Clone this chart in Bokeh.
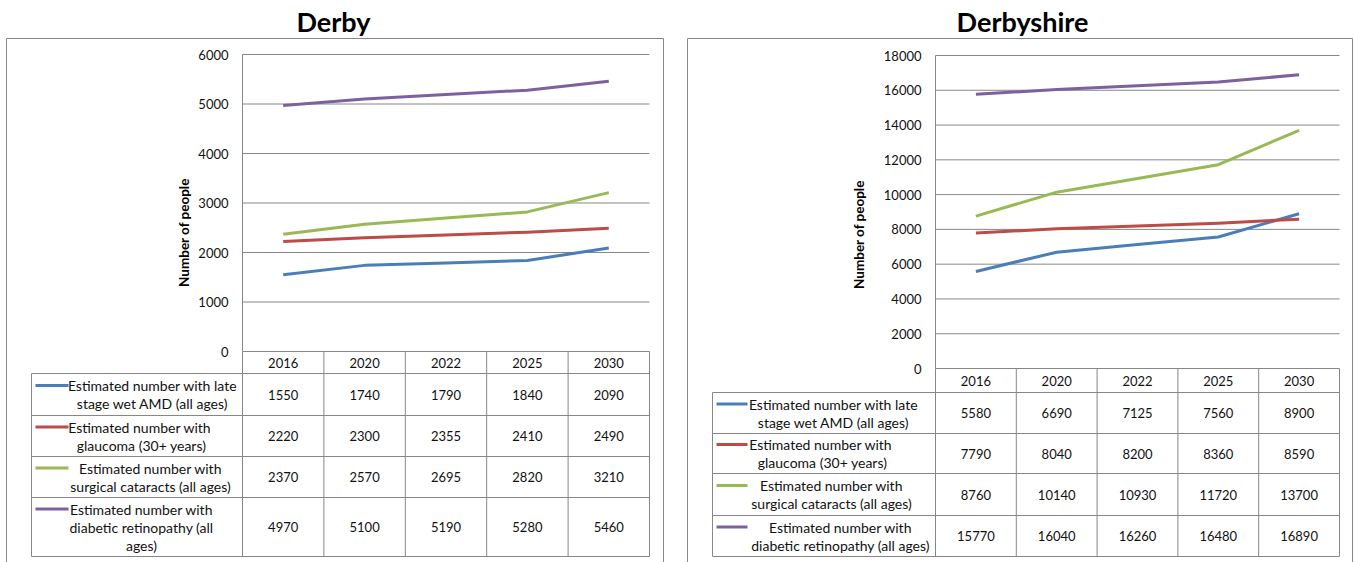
from math import pi

from bokeh.plotting import figure
from bokeh.models import Range1d
from bokeh.core.properties import value
from bokeh.embed import file_html
from bokeh.resources import INLINE

# ---------------------------------------------------------------- data
years = ["2016", "2020", "2022", "2025", "2030"]

series_colors = ["#4A7EBB", "#BE4B48", "#98B954", "#7D60A0"]

derby_amd = [1550, 1740, 1790, 1840, 2090]
derby_glaucoma = [2220, 2300, 2355, 2410, 2490]
derby_cataracts = [2370, 2570, 2695, 2820, 3210]
derby_retinopathy = [4970, 5100, 5190, 5280, 5460]

derbyshire_amd = [5580, 6690, 7125, 7560, 8900]
derbyshire_glaucoma = [7790, 8040, 8200, 8360, 8590]
derbyshire_cataracts = [8760, 10140, 10930, 11720, 13700]
derbyshire_retinopathy = [15770, 16040, 16260, 16480, 16890]

derby_ticks = [0, 1000, 2000, 3000, 4000, 5000, 6000]
derbyshire_ticks = [0, 2000, 4000, 6000, 8000, 10000, 12000, 14000, 16000, 18000]

# series names as wrapped inside the data-table legend cells
derby_labels = [
    ["Estimated number with late", "stage wet AMD (all ages)"],
    ["Estimated number  with", "glaucoma (30+ years)"],
    ["Estimated number with", "surgical cataracts (all ages)"],
    ["Estimated number with", "diabetic retinopathy (all", "ages)"],
]
derbyshire_labels = [
    ["Estimated number with late", "stage wet AMD (all ages)"],
    ["Estimated number  with", "glaucoma (30+ years)"],
    ["Estimated number with", "surgical cataracts (all ages)"],
    ["Estimated number with", "diabetic retinopathy (all ages)"],
]

y_title = "Number of people"

# ---------------------------------------------------------------- styling
W, H = 1354, 562
FONT = value("Lato")
GRID = "#878787"
TEXT = "#111111"
SERIES_WIDTH = 3

# panel geometry (canvas pixels)
derby_layout = dict(
    name="derby", title="Derby", title_x=333, title_y=21,
    box=(6, 38, 663, 575),
    axis_x=242, plot_right=649, top_y=54, zero_y=351,
    table_left=31, header_bottom=373, row_bottoms=[415, 456, 497, 556],
    tick_label_x=228, ytitle_x=183, ytitle_y=232,
    key=(35, 68), text_centers=[152, 141, 150, 141],
)
derbyshire_layout = dict(
    name="derbyshire", title="Derbyshire", title_x=1022, title_y=21,
    box=(687, 38, 1352, 575),
    axis_x=935, plot_right=1339, top_y=55, zero_y=368,
    table_left=712, header_bottom=392, row_bottoms=[433, 473, 515, 556],
    tick_label_x=921, ytitle_x=858, ytitle_y=234,
    key=(716, 747), text_centers=[833, 822, 831, 840],
)

p = figure(
    width=W, height=H,
    x_range=Range1d(0, W), y_range=Range1d(H, 0),
    min_border=0, toolbar_location=None, output_backend="svg",
)
p.axis.visible = False
p.grid.visible = False
p.outline_line_color = None
p.background_fill_color = "white"
p.border_fill_color = "white"


def draw_panel(lay, ticks, series, labels):
    n = len(years)
    name = lay["name"]
    ax, right = lay["axis_x"], lay["plot_right"]
    top, zero = lay["top_y"], lay["zero_y"]
    col_w = (right - ax) / n

    # category scale: index i sits in the middle of table column i
    xs0 = -0.5 - ax / col_w
    p.extra_x_ranges[name + "_x"] = Range1d(xs0, xs0 + W / col_w)
    # value scale: 0 on the table's top edge, top tick on the top gridline
    k = (ticks[-1] - ticks[0]) / (zero - top)
    p.extra_y_ranges[name + "_y"] = Range1d(-(H - zero) * k, ticks[-1] + top * k)
    xr, yr = name + "_x", name + "_y"

    # title and frame
    p.text(x=[lay["title_x"]], y=[lay["title_y"]], text=[lay["title"]],
           text_font=FONT, text_font_style="bold", text_font_size="27px",
           text_align="center", text_baseline="middle", text_color="black")
    x0, y0, x1, y1 = lay["box"]
    p.quad(left=[x0], right=[x1], top=[y0], bottom=[y1],
           fill_color=None, line_color=GRID, line_width=1)

    # horizontal gridlines and tick labels
    p.segment(x0=[ax] * len(ticks), x1=[right] * len(ticks), y0=ticks, y1=ticks,
              y_range_name=yr, line_color=GRID, line_width=1)
    p.text(x=[lay["tick_label_x"]] * len(ticks), y=ticks,
           text=[str(t) for t in ticks], y_range_name=yr,
           text_font=FONT, text_font_size="13px", text_color=TEXT,
           text_align="right", text_baseline="middle")
    p.text(x=[lay["ytitle_x"]], y=[lay["ytitle_y"]], text=[y_title],
           angle=pi / 2, text_font=FONT, text_font_style="bold",
           text_font_size="13.5px", text_color="black",
           text_align="center", text_baseline="middle")

    # data table grid
    rows = lay["row_bottoms"]
    bottom = rows[-1]
    tl = lay["table_left"]
    hb = lay["header_bottom"]
    hx0 = [tl] + [tl] * len(rows)
    hx1 = [right] * (len(rows) + 1)
    hy = [hb] + rows
    p.segment(x0=hx0, x1=hx1, y0=hy, y1=hy, line_color=GRID, line_width=1)
    edges = [ax + i * col_w for i in range(n + 1)]
    p.segment(x0=edges, x1=edges, y0=[zero] * len(edges), y1=[bottom] * len(edges),
              line_color=GRID, line_width=1)
    p.segment(x0=[ax], x1=[ax], y0=[top], y1=[zero], line_color=GRID, line_width=1)
    p.segment(x0=[tl], x1=[tl], y0=[hb], y1=[bottom], line_color=GRID, line_width=1)

    # year headers
    idx = list(range(n))
    p.text(x=idx, y=[(zero + hb) / 2] * n, text=years, x_range_name=xr,
           text_font=FONT, text_font_size="13px", text_color=TEXT,
           text_align="center", text_baseline="middle")

    row_tops = [hb] + rows[:-1]
    k0, k1 = lay["key"]
    for r, (vals, color, lab) in enumerate(zip(series, series_colors, labels)):
        # series line
        p.line(x=idx, y=vals, x_range_name=xr, y_range_name=yr,
               line_color=color, line_width=SERIES_WIDTH, line_join="round")
        mid = (row_tops[r] + rows[r]) / 2
        # values in the row
        p.text(x=idx, y=[mid] * n, text=[str(v) for v in vals], x_range_name=xr,
               text_font=FONT, text_font_size="13px", text_color=TEXT,
               text_align="center", text_baseline="middle")
        # legend key and wrapped series name
        gap = 18
        first = mid - gap * (len(lab) - 1) / 2
        ly = [first + gap * j for j in range(len(lab))]
        p.segment(x0=[k0], x1=[k1], y0=[ly[0]], y1=[ly[0]],
                  line_color=color, line_width=3)
        p.text(x=[lay["text_centers"][r]] * len(lab), y=ly, text=lab,
               text_font=FONT, text_font_size="14px", text_color=TEXT,
               text_align="center", text_baseline="middle")


draw_panel(derby_layout, derby_ticks,
           [derby_amd, derby_glaucoma, derby_cataracts, derby_retinopathy],
           derby_labels)
draw_panel(derbyshire_layout, derbyshire_ticks,
           [derbyshire_amd, derbyshire_glaucoma, derbyshire_cataracts, derbyshire_retinopathy],
           derbyshire_labels)

open("out.html", "w").write(file_html(p, INLINE))
